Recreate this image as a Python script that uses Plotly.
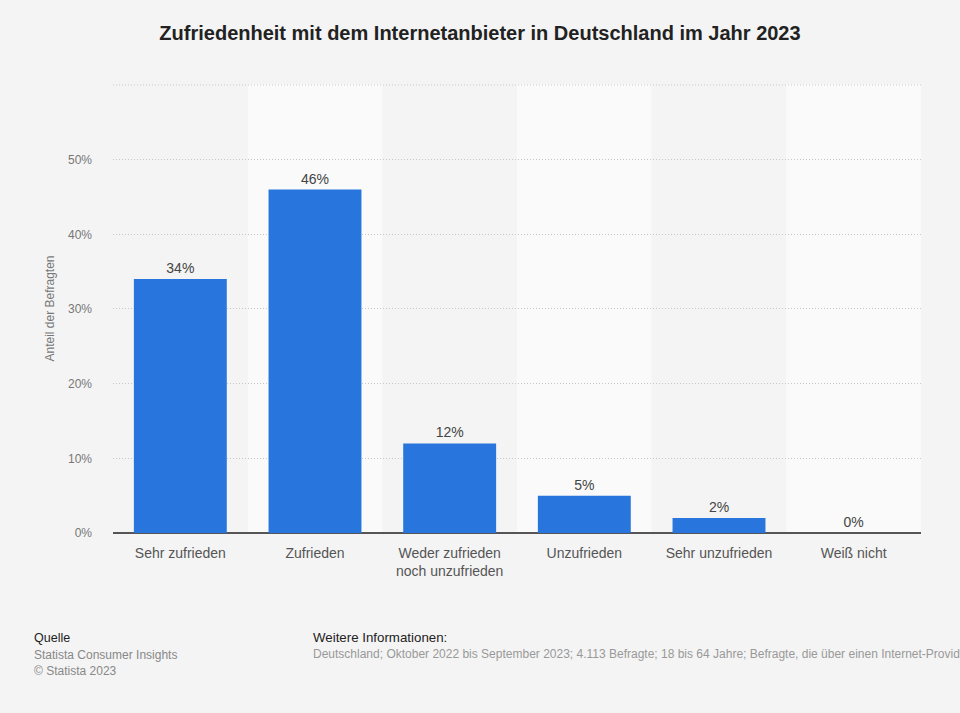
import plotly.graph_objects as go

categories = ["Sehr zufrieden", "Zufrieden", "Weder zufrieden<br>noch unzufrieden",
              "Unzufrieden", "Sehr unzufrieden", "Weiß nicht"]
values = [34, 46, 12, 5, 2, 0]
tick_vals = [0, 10, 20, 30, 40, 50, 60]
tick_text = ["0%", "10%", "20%", "30%", "40%", "50%", ""]

FONT = "Liberation Sans, Arial, sans-serif"

fig = go.Figure()
fig.add_trace(go.Bar(
    x=categories, y=values,
    marker=dict(color="#2876dd", line=dict(width=0)),
    width=0.69,
    text=[f"{v}%" for v in values],
    textposition="outside",
    textfont=dict(size=14, color="#444", family=FONT),
    cliponaxis=False,
    hoverinfo="skip",
))

shapes = []
for i in range(len(categories)):
    if i % 2 == 1:
        shapes.append(dict(type="rect", xref="x", yref="paper",
                           x0=i - 0.5, x1=i + 0.5, y0=0, y1=1,
                           fillcolor="#fafafa", line=dict(width=0), layer="below"))
# top gridline at the upper end of the value axis
shapes.append(dict(type="line", xref="paper", yref="y", x0=0, x1=1,
                   y0=tick_vals[-1], y1=tick_vals[-1],
                   line=dict(color="#c8c8c8", width=1, dash="1px,2px"), layer="below"))

PW = 808.0
fig.update_layout(
    width=960, height=713,
    paper_bgcolor="#f4f4f4", plot_bgcolor="#f4f4f4",
    margin=dict(l=113, r=39, t=84, b=180),
    font=dict(family=FONT),
    showlegend=False,
    shapes=shapes,
    title=dict(text="<b>Zufriedenheit mit dem Internetanbieter in Deutschland im Jahr 2023</b>",
               x=0.5, xanchor="center", y=1 - 33/713, yanchor="middle",
               font=dict(size=20, color="#222", family=FONT)),
    xaxis=dict(
        tickfont=dict(size=14, color="#555", family=FONT),
        showgrid=False, showline=False, ticks="",
        range=[-0.5, 5.5], ticklabelstandoff=10,
    ),
    yaxis=dict(
        range=[0, 60.13], tickvals=tick_vals, ticktext=tick_text,
        tickfont=dict(size=12, color="#777", family=FONT),
        showgrid=True, gridcolor="#c8c8c8", griddash="1px,2px", gridwidth=1,
        zeroline=True, zerolinecolor="#555", zerolinewidth=1.5,
        ticks="", ticklabelstandoff=20,
        title=dict(text="Anteil der Befragten", font=dict(size=12, color="#777", family=FONT),
                   standoff=10),
    ),
    annotations=[
        dict(text="Quelle", xref="paper", yref="paper", x=(32 - 113)/PW, xanchor="left",
             y=0, yshift=-105, yanchor="middle", showarrow=False,
             font=dict(size=12.5, color="#222", family=FONT)),
        dict(text="Statista Consumer Insights<br>© Statista 2023", xref="paper", yref="paper",
             x=(32 - 113)/PW, xanchor="left", align="left",
             y=0, yshift=-113, yanchor="top", showarrow=False,
             font=dict(size=12, color="#888", family=FONT)),
        dict(text="Weitere Informationen:", xref="paper", yref="paper",
             x=(311 - 113)/PW, xanchor="left",
             y=0, yshift=-104, yanchor="middle", showarrow=False,
             font=dict(size=13.3, color="#222", family=FONT)),
        dict(text="Deutschland; Oktober 2022 bis September 2023; 4.113 Befragte; 18 bis 64 Jahre; Befragte, die über einen Internet-Provider verfügen",
             xref="paper", yref="paper",
             x=(311 - 113)/PW, xanchor="left", align="left",
             y=0, yshift=-121, yanchor="middle", showarrow=False,
             font=dict(size=12, color="#999", family=FONT)),
    ],
)

fig.write_html("out.html", config={"displayModeBar": False},
               post_script="document.body.style.margin='0';document.body.style.padding='0';")
